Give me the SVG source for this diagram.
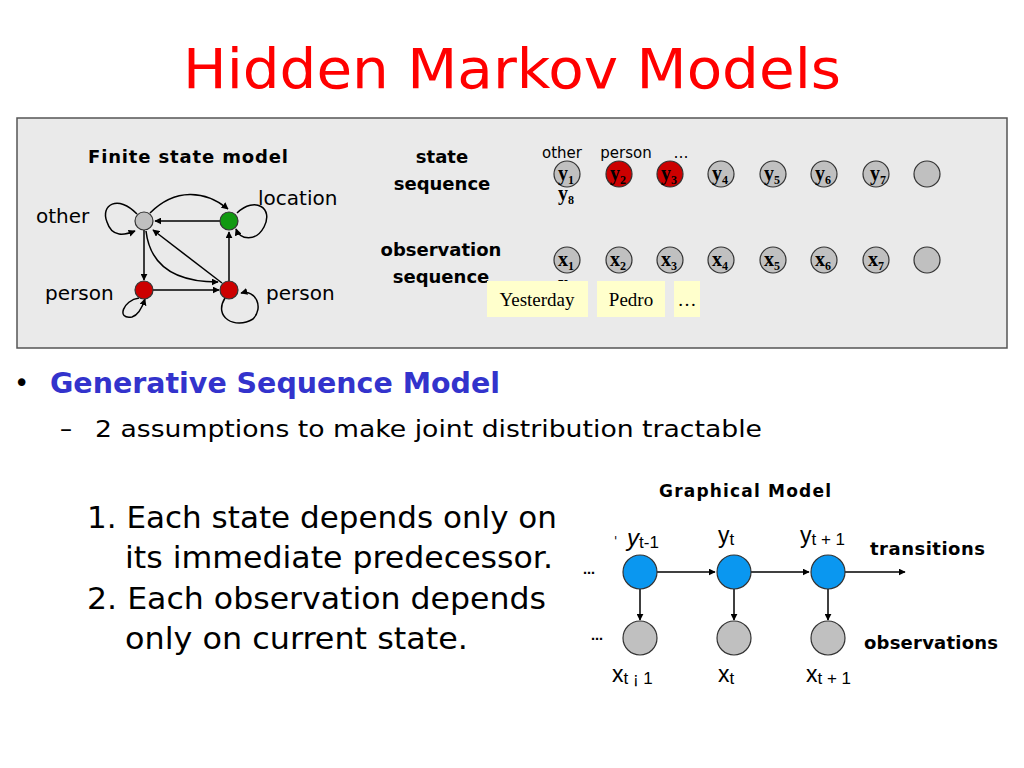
<svg xmlns="http://www.w3.org/2000/svg" width="1024" height="768" viewBox="0 0 1024 768">
<defs>
<marker id="ah" viewBox="0 0 10 10" refX="9" refY="5" markerWidth="7" markerHeight="7" markerUnits="userSpaceOnUse" orient="auto"><path d="M0,0 L10,5 L0,10 z" fill="#000"/></marker>
<style>
.sans{font-family:"DejaVu Sans","Liberation Sans",sans-serif;}
.ser{font-family:"Liberation Serif","Times New Roman",serif;}
.edge{fill:none;stroke:#000;stroke-width:1.5;marker-end:url(#ah);}
.g{fill:#C0C0C0;stroke:#333;stroke-width:1.2;}
.r{fill:#CC0000;stroke:#333;stroke-width:1.2;}
.bl{fill:#0A97F0;stroke:#333;stroke-width:1.2;}
.yb{fill:#FFFFCC;}
.lab{font-family:"Liberation Serif",serif;font-weight:bold;font-size:20px;}
.sub{font-size:12px;}
</style>
</defs>
<rect width="1024" height="768" fill="#fff"/>
<text x="512" y="88" text-anchor="middle" class="sans" font-size="56" fill="#FF0000" textLength="658" lengthAdjust="spacingAndGlyphs">Hidden Markov Models</text>
<g id="panel">
<rect x="17" y="118" width="990" height="230" fill="#EAEAEA" stroke="#555" stroke-width="1.5"/>
</g>
<g id="fsm-title"><text x="188" y="163" text-anchor="middle" class="sans" font-weight="bold" font-size="18" textLength="200">Finite state model</text></g>
<g id="connectors">
<path class="edge" d="M220,221 L155,221"/>
<path class="edge" d="M150,213 C175,188 205,190 228,209"/>
<path class="edge" d="M144,230 L144,280"/>
<path class="edge" d="M153,290 L219,290"/>
<path class="edge" d="M229,281 L229,232"/>
<path class="edge" d="M222,283 L153,230"/>
<path class="edge" d="M146,231 C150,265 175,282 218,282"/>
<path class="edge" d="M137,214 C118,194 100,205 107,222 C112,238 125,235 135,231"/>
<path class="edge" d="M237,213 C255,196 274,208 264,227 C256,242 240,240 236,229"/>
<path class="edge" d="M139,298 C123,300 116,320 132,317 C139,315 143,305 145,299"/>
<path class="edge" d="M225,298 C213,317 235,330 253,319 C264,308 256,289 241,293"/>
<path class="edge" d="M657,572 L715,572"/>
<path class="edge" d="M751,572 L809,572"/>
<path class="edge" d="M845,572 L905,572"/>
<path class="edge" d="M640,589 L640,620"/>
<path class="edge" d="M734,589 L734,620"/>
<path class="edge" d="M828,589 L828,620"/>
</g>
<g id="n-other"><circle cx="144" cy="221" r="9" class="g"/><text x="36" y="223" class="sans" font-size="20">other</text></g>
<g id="n-location"><circle cx="229" cy="221" r="9" fill="#119911" stroke="#333" stroke-width="1.2"/><text x="258" y="205" class="sans" font-size="20">location</text></g>
<g id="n-person1"><circle cx="144" cy="290" r="9" class="r"/><text x="45" y="300" class="sans" font-size="20">person</text></g>
<g id="n-person2"><circle cx="229" cy="290" r="9" class="r"/><text x="266" y="300" class="sans" font-size="20">person</text></g>
<g id="seq-labels" class="sans" font-weight="bold" font-size="18" text-anchor="middle">
<text x="442" y="163">state</text>
<text x="442" y="190">sequence</text>
<text x="441" y="256">observation</text>
<text x="441" y="283">sequence</text>
</g>
<g id="top-labels" class="sans" font-size="15">
<text x="562" y="158" text-anchor="middle">other</text>
<text x="626" y="158" text-anchor="middle">person</text>
<text x="681" y="158" text-anchor="middle">…</text>
</g>
<g id="y-nodes" class="lab">
<g id="y1"><circle cx="567" cy="174" r="13" class="g"/><text x="558" y="180">y<tspan class="sub" dy="4">1</tspan></text></g>
<g id="y2"><circle cx="619" cy="174" r="13" class="r"/><text x="610" y="180">y<tspan class="sub" dy="4">2</tspan></text></g>
<g id="y3"><circle cx="670" cy="174" r="13" class="r"/><text x="661" y="180">y<tspan class="sub" dy="4">3</tspan></text></g>
<g id="y4"><circle cx="721" cy="174" r="13" class="g"/><text x="712" y="180">y<tspan class="sub" dy="4">4</tspan></text></g>
<g id="y5"><circle cx="773" cy="174" r="13" class="g"/><text x="764" y="180">y<tspan class="sub" dy="4">5</tspan></text></g>
<g id="y6"><circle cx="824" cy="174" r="13" class="g"/><text x="815" y="180">y<tspan class="sub" dy="4">6</tspan></text></g>
<g id="y7"><circle cx="876" cy="174" r="13" class="g"/><text x="870" y="180">y<tspan class="sub" dy="4">7</tspan></text></g>
<g id="y8"><circle cx="927" cy="174" r="13" class="g"/><text x="558" y="200">y<tspan class="sub" dy="4">8</tspan></text></g>
</g>
<g id="x-nodes" class="lab">
<g id="x1"><circle cx="567" cy="260" r="13" class="g"/><text x="558" y="266">x<tspan class="sub" dy="4">1</tspan></text></g>
<g id="x2"><circle cx="619" cy="260" r="13" class="g"/><text x="610" y="266">x<tspan class="sub" dy="4">2</tspan></text></g>
<g id="x3"><circle cx="670" cy="260" r="13" class="g"/><text x="661" y="266">x<tspan class="sub" dy="4">3</tspan></text></g>
<g id="x4"><circle cx="721" cy="260" r="13" class="g"/><text x="712" y="266">x<tspan class="sub" dy="4">4</tspan></text></g>
<g id="x5"><circle cx="773" cy="260" r="13" class="g"/><text x="764" y="266">x<tspan class="sub" dy="4">5</tspan></text></g>
<g id="x6"><circle cx="824" cy="260" r="13" class="g"/><text x="815" y="266">x<tspan class="sub" dy="4">6</tspan></text></g>
<g id="x7"><circle cx="876" cy="260" r="13" class="g"/><text x="868" y="266">x<tspan class="sub" dy="4">7</tspan></text></g>
<g id="x8"><circle cx="927" cy="260" r="13" class="g"/><text x="558" y="290">x</text></g>
</g>
<g id="words" class="ser" font-size="19">
<g id="w1"><rect x="487" y="281" width="101" height="36" class="yb"/><text x="537" y="306" text-anchor="middle">Yesterday</text></g>
<g id="w2"><rect x="597" y="281" width="68" height="36" class="yb"/><text x="631" y="306" text-anchor="middle">Pedro</text></g>
<g id="w3"><rect x="674" y="281" width="26" height="36" class="yb"/><text x="687" y="306" text-anchor="middle">…</text></g>
</g>
<g id="bullets" class="sans">
<text x="14" y="392" font-size="26">•</text>
<text x="50" y="393" font-size="28" font-weight="bold" fill="#3333CC" textLength="450" lengthAdjust="spacingAndGlyphs">Generative Sequence Model</text>
<text x="60" y="437" font-size="24">–</text>
<text x="95" y="437" font-size="23" textLength="667" lengthAdjust="spacingAndGlyphs">2 assumptions to make joint distribution tractable</text>
<text x="87" y="528" font-size="31" textLength="470" lengthAdjust="spacingAndGlyphs">1. Each state depends only on</text>
<text x="125" y="568" font-size="31" textLength="428" lengthAdjust="spacingAndGlyphs">its immediate predecessor.</text>
<text x="87" y="609" font-size="31" textLength="459" lengthAdjust="spacingAndGlyphs">2. Each observation depends</text>
<text x="125" y="649" font-size="31" textLength="343" lengthAdjust="spacingAndGlyphs">only on current state.</text>
</g>
<g id="gm-title"><text x="745" y="497" text-anchor="middle" class="sans" font-weight="bold" font-size="17" textLength="172">Graphical Model</text></g>
<g id="gm-y1"><circle cx="640" cy="572" r="17" class="bl"/><text x="614" y="545" class="sans" font-size="12">'</text><text x="627" y="546" font-family="Liberation Sans,sans-serif" font-size="24" font-style="italic">y<tspan font-size="17" font-style="normal" dy="2">t-1</tspan></text></g>
<g id="gm-y2"><circle cx="734" cy="572" r="17" class="bl"/><text x="718" y="543" font-family="Liberation Sans,sans-serif" font-size="23">y<tspan font-size="17" dy="2">t</tspan></text></g>
<g id="gm-y3"><circle cx="828" cy="572" r="17" class="bl"/><text x="800" y="543" font-family="Liberation Sans,sans-serif" font-size="23">y<tspan font-size="17" dy="2">t + 1</tspan></text></g>
<g id="gm-x1"><circle cx="640" cy="638" r="17" class="g"/><text x="612" y="682" font-family="Liberation Sans,sans-serif" font-size="23">x<tspan font-size="17" dy="2">t ¡  1</tspan></text></g>
<g id="gm-x2"><circle cx="734" cy="638" r="17" class="g"/><text x="718" y="682" font-family="Liberation Sans,sans-serif" font-size="23">x<tspan font-size="17" dy="2">t</tspan></text></g>
<g id="gm-x3"><circle cx="828" cy="638" r="17" class="g"/><text x="806" y="682" font-family="Liberation Sans,sans-serif" font-size="23">x<tspan font-size="17" dy="2">t + 1</tspan></text></g>
<g id="gm-labels" class="sans" font-weight="bold" font-size="18">
<text x="870" y="555" textLength="115">transitions</text>
<text x="864" y="649" textLength="134">observations</text>
<text x="583" y="574" font-size="12">…</text>
<text x="591" y="640" font-size="12">…</text>
</g>
</svg>
